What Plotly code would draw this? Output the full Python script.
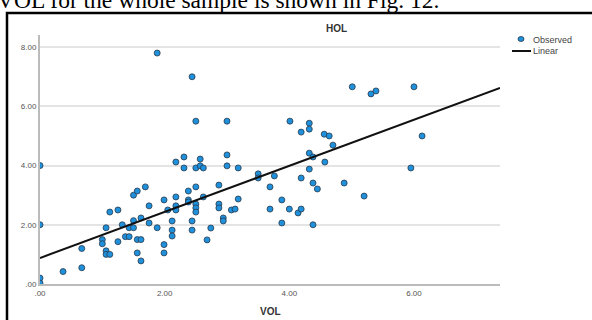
import plotly.graph_objects as go

# Observed data (VOL, HOL)
vol = [0, 0, 0, 0, 0.37, 0.67, 0.67,
       1.0, 1.0, 1.06, 1.06, 1.12, 1.06, 1.12, 1.25, 1.25, 1.32, 1.37, 1.43, 1.43,
       1.5, 1.5, 1.5, 1.56, 1.56, 1.62, 1.56, 1.62, 1.62, 1.69, 1.75, 1.75, 1.88, 1.88,
       1.99, 1.99, 1.99, 2.05, 2.12, 2.12, 2.12, 2.18, 2.18, 2.18, 2.18,
       2.31, 2.31, 2.38, 2.38, 2.38, 2.44, 2.44, 2.44,
       2.5, 2.5, 2.5, 2.5, 2.5, 2.5, 2.57, 2.57, 2.62, 2.62, 2.68, 2.74,
       2.87, 2.87, 2.87, 2.94, 2.94, 3.0, 3.0, 3.0,
       3.07, 3.13, 3.18, 3.18, 3.5, 3.5, 3.69, 3.69, 3.76, 3.88, 3.88,
       4.0, 4.01, 4.14, 4.19, 4.19, 4.19,
       4.32, 4.32, 4.32, 4.32, 4.38, 4.38, 4.38, 4.45,
       4.56, 4.57, 4.64, 4.70, 4.88, 5.01, 5.2, 5.31, 5.39, 5.95, 6.0, 6.13]
hol = [4.0, 2.0, 0.2, 0.03, 0.42, 0.55, 1.2,
       1.5, 1.36, 1.12, 1.0, 1.0, 1.9, 2.43, 2.5, 1.43, 2.0, 1.6, 1.6, 1.9,
       2.14, 1.9, 3.0, 3.14, 1.5, 1.5, 1.05, 0.78, 2.23, 3.28, 2.64, 2.06, 1.9, 7.8,
       2.84, 1.33, 1.05, 2.5, 2.13, 1.82, 1.62, 2.94, 2.64, 2.5, 4.12,
       4.29, 3.92, 3.14, 2.84, 2.77, 7.0, 2.13, 1.82,
       5.5, 3.92, 3.28, 2.7, 2.57, 2.43, 4.22, 3.99, 3.92, 2.94, 1.49, 1.89,
       3.34, 2.7, 2.57, 2.23, 2.13, 5.5, 4.36, 3.99,
       2.5, 2.53, 2.87, 3.92, 3.72, 3.58, 3.28, 2.53, 3.65, 2.84, 2.06,
       2.53, 5.5, 2.4, 5.13, 3.58, 2.53,
       5.43, 5.23, 4.42, 3.88, 4.29, 3.41, 2.0, 3.21,
       5.06, 4.12, 5.0, 4.69, 3.41, 6.66, 2.97, 6.42, 6.52, 3.92, 6.66, 5.0]

# Linear fit line endpoints
fit_x = [0.0, 7.38]
fit_y = [0.88, 6.62]

x_ticks = [0, 2, 4, 6]
x_ticktext = [".00", "2.00", "4.00", "6.00"]
y_ticks = [0, 2, 4, 6, 8]
y_ticktext = [".00", "2.00", "4.00", "6.00", "8.00"]

legend_labels = ["Observed", "Linear"]

MARKER_COLOR = "#1e90dc"
MARKER_EDGE = "#2a3a4a"

fig = go.Figure()
fig.add_trace(go.Scatter(
    x=vol, y=hol, mode="markers", name=legend_labels[0],
    marker=dict(size=6, color=MARKER_COLOR, line=dict(color=MARKER_EDGE, width=0.8)),
    showlegend=False,
))
fig.add_trace(go.Scatter(
    x=fit_x, y=fit_y, mode="lines", name=legend_labels[1],
    line=dict(color="#111111", width=2), showlegend=False,
))

L, R, T, B = 40, 92, 35, 36
W, H = 592, 320
pw, ph = W - L - R, H - T - B

def px(x):
    return (x - L) / pw

def py(y):
    return (H - B - y) / ph

fig.update_layout(
    width=W, height=H,
    margin=dict(l=L, r=R, t=T, b=B),
    paper_bgcolor="white", plot_bgcolor="white",
    font=dict(family="Liberation Sans, Arial, sans-serif", size=8, color="#555555"),
    showlegend=False,
    xaxis=dict(range=[0, 7.38], tickvals=x_ticks, ticktext=x_ticktext,
               showgrid=False, zeroline=False, showline=True,
               linecolor="#bbbbbb", linewidth=2, ticks="",
               tickfont=dict(size=8, color="#555555")),
    yaxis=dict(range=[0, 8.41], tickvals=y_ticks, ticktext=y_ticktext,
               showgrid=True, gridcolor="#e4e4e4", gridwidth=1.5,
               zeroline=False, showline=True,
               linecolor="#bbbbbb", linewidth=2, ticks="",
               tickfont=dict(size=8, color="#555555")),
    annotations=[
        dict(text="<b>HOL</b>", x=px(336), y=py(28), xref="paper", yref="paper",
             showarrow=False, xanchor="center", yanchor="middle",
             font=dict(size=10, color="#333333")),
        dict(text="<b>VOL</b>", x=0.5, y=py(311), xref="paper", yref="paper",
             showarrow=False, xanchor="center", yanchor="middle",
             font=dict(size=10, color="#333333")),
        dict(text="VOL for the whole sample is shown in Fig. 12.",
             x=px(-5), y=py(15), xref="paper", yref="paper",
             showarrow=False, xanchor="left", yanchor="bottom",
             font=dict(family="Liberation Serif, Times New Roman, serif",
                       size=23.5, color="#000000")),
        dict(text=legend_labels[0], x=px(532), y=py(40), xref="paper", yref="paper",
             showarrow=False, xanchor="left", yanchor="middle", borderpad=0,
             font=dict(size=9, color="#444444")),
        dict(text=legend_labels[1], x=px(532), y=py(51), xref="paper", yref="paper",
             showarrow=False, xanchor="left", yanchor="middle", borderpad=0,
             font=dict(size=9, color="#444444")),
    ],
    shapes=[
        dict(type="rect", xref="paper", yref="paper",
             x0=px(7), x1=px(640), y0=py(340), y1=py(13),
             line=dict(color="#000000", width=2.5), fillcolor="rgba(0,0,0,0)"),
        dict(type="circle", xref="paper", yref="paper",
             xsizemode="pixel", ysizemode="pixel",
             xanchor=px(521), yanchor=py(39), x0=-3, x1=3, y0=-2.5, y1=2.5,
             fillcolor=MARKER_COLOR, line=dict(color=MARKER_EDGE, width=0.8)),
        dict(type="line", xref="paper", yref="paper",
             x0=px(512), x1=px(531), y0=py(51), y1=py(51),
             line=dict(color="#111111", width=2)),
    ],
)

fig.write_html("out.html")
